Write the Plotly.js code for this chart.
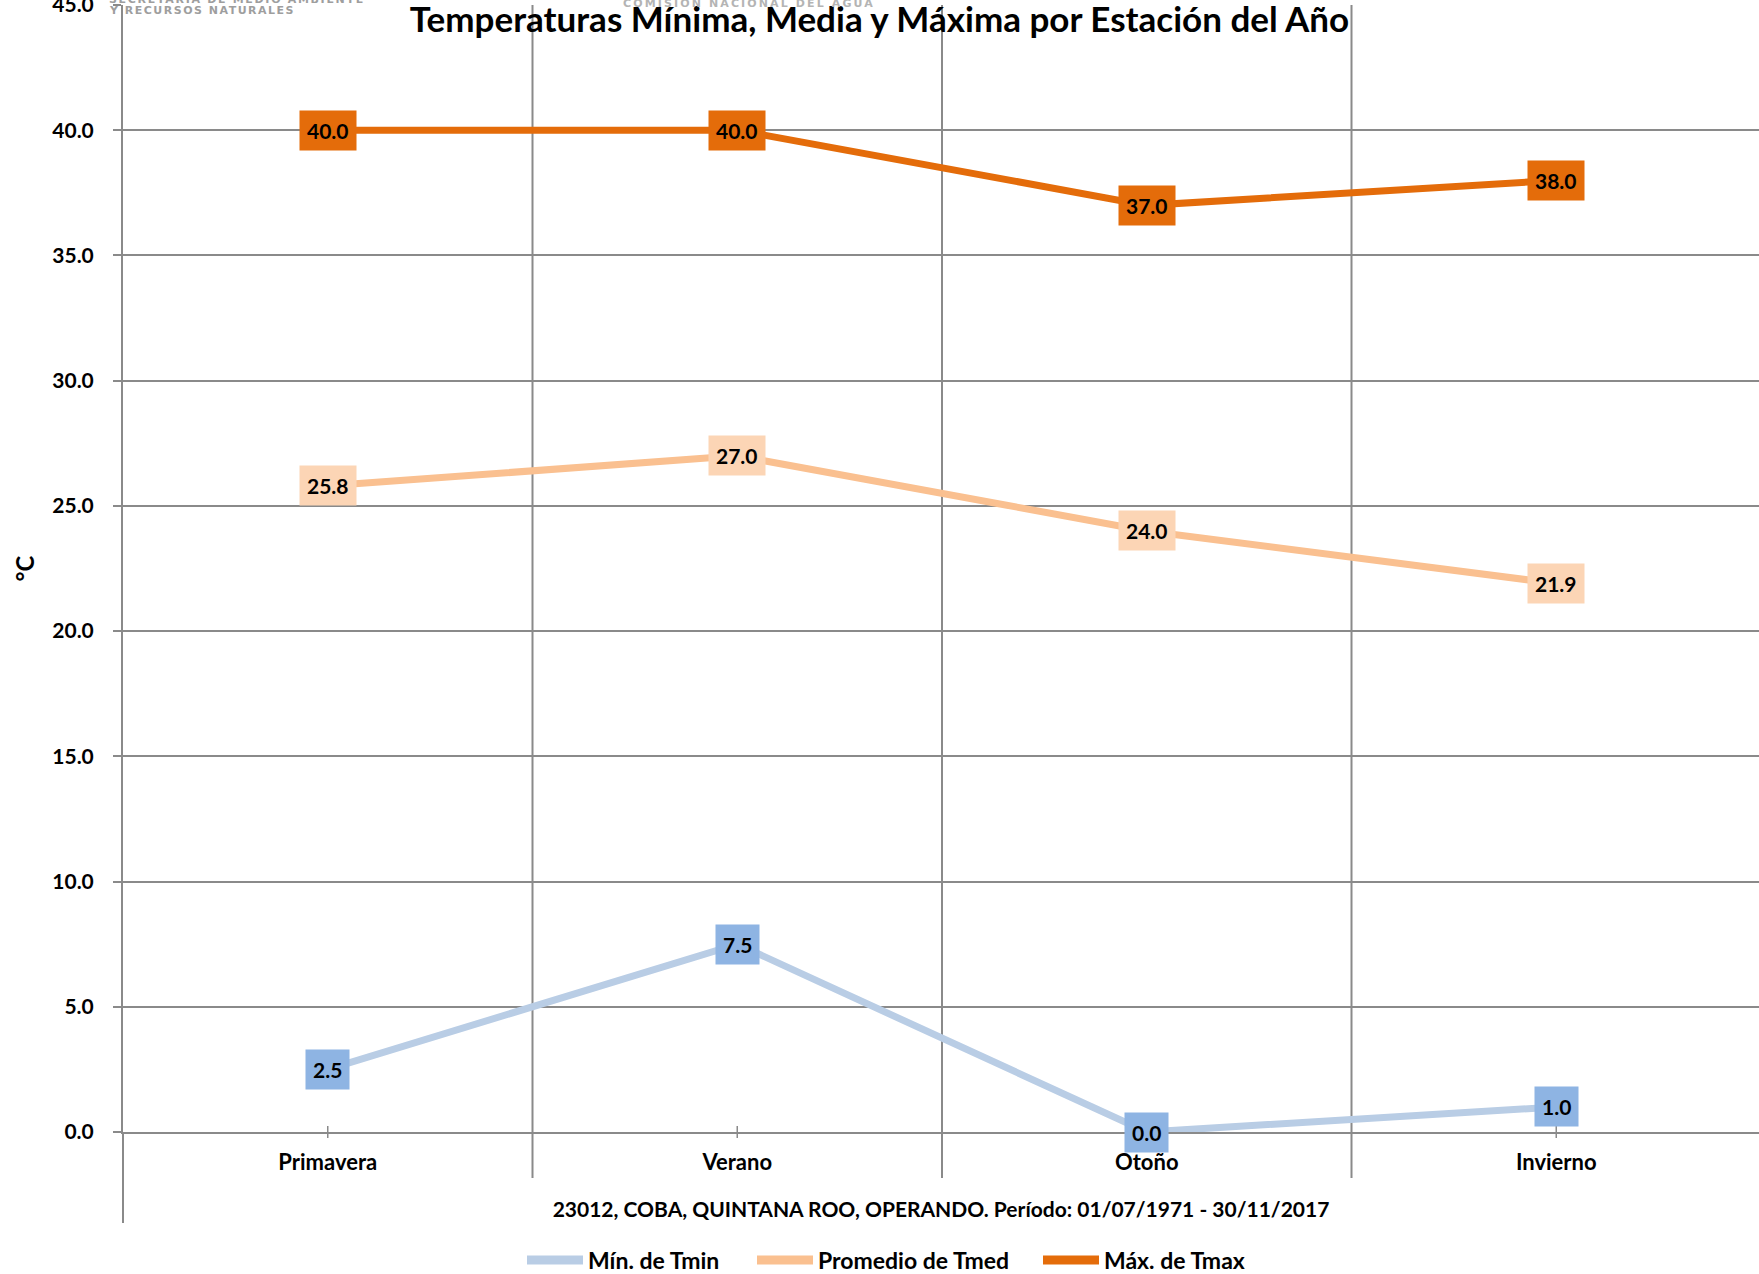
<!DOCTYPE html>
<html>
<head>
<meta charset="utf-8">
<script src="https://cdn.plot.ly/plotly-3.0.1.min.js"></script>
<style>
  html, body { margin: 0; padding: 0; background: #ffffff; overflow: hidden; }
  #chart { width: 1759px; height: 1274px; }
</style>
</head>
<body>
<div id="chart"></div>
<script>
// ---- data ----
const seasons = ["Primavera", "Verano", "Otoño", "Invierno"];
const tminMin = [2.5, 7.5, 0.0, 1.0];
const tmedAvg = [25.8, 27.0, 24.0, 21.9];
const tmaxMax = [40.0, 40.0, 37.0, 38.0];
const seriesNames = ["Mín. de Tmin", "Promedio de Tmed", "Máx. de Tmax"];
const yTicks = [0, 5, 10, 15, 20, 25, 30, 35, 40, 45];
const chartTitle = "Temperaturas Mínima, Media y Máxima por Estación del Año";
const xTitle = "23012, COBA, QUINTANA ROO, OPERANDO. Período: 01/07/1971 - 30/11/2017";
const yTitle = "°C";
const logoTexts = ["SECRETARÍA DE MEDIO AMBIENTE", "Y RECURSOS NATURALES", "COMISIÓN NACIONAL DEL AGUA"];

// ---- styles ----
const FONT = "Lato, 'Open Sans', sans-serif";
const lineColors = ["#B9CDE5", "#FAC090", "#E46C0A"];
const boxColors = ["#8EB4E3", "#FCD5B5", "#E46C0A"];
const gridColor = "#8A8A8A";
const W = 1759, H = 1274;
const mL = 123, mR = 0, mT = 5, mB = 142;
const plotH = H - mT - mB;
const plotW = W - mL - mR;
const px2x = p => (p - mL) / plotW;          // pixel x -> paper x
const px2y = p => (H - mB - p) / plotH;      // pixel y -> paper y

const series = [tminMin, tmedAvg, tmaxMax];

const traces = series.map((vals, i) => ({
  type: "scatter",
  mode: "lines",
  x: seasons,
  y: vals,
  name: seriesNames[i],
  line: { color: lineColors[i], width: 7 },
  showlegend: false
}));

const annotations = [];
series.forEach((vals, i) => {
  vals.forEach((v, j) => {
    annotations.push({
      x: seasons[j], y: v, xref: "x", yref: "y",
      text: v.toFixed(1),
      showarrow: false,
      xanchor: "center", yanchor: "middle",
      bgcolor: boxColors[i],
      borderpad: 7,
      font: { family: FONT, size: 21, color: "#000000", weight: "bold" }
    });
  });
});

// logo texts (partially cut at the top of the picture): [left px, center y px, colour, width px]
const logoPos = [[109, 0, "#9E9E9E", 256], [109, 11, "#9E9E9E", 185], [623, 4, "#B4B4B4", 252]];
logoTexts.forEach((t, k) => {
  annotations.push({
    xref: "paper", yref: "paper",
    x: px2x(logoPos[k][0]), y: px2y(logoPos[k][1]),
    xanchor: "left", yanchor: "middle", showarrow: false,
    text: t,
    font: { family: "DejaVu Sans", size: 11, color: logoPos[k][2], weight: "bold" }
  });
});

const shapes = [];
// vertical gridlines on category boundaries, extending below the axis
for (let k = 0; k < seasons.length; k++) {
  shapes.push({
    type: "line", xref: "x", yref: "paper",
    x0: k + 0.5, x1: k + 0.5, y0: px2y(1178), y1: 1,
    line: { color: gridColor, width: 2 }, layer: "below"
  });
  // small tick crossing the category axis at each category
  shapes.push({
    type: "line", xref: "x", yref: "paper",
    x0: k, x1: k, y0: px2y(1138), y1: px2y(1126),
    line: { color: gridColor, width: 1.5 }, layer: "below"
  });
}
// y axis line extension below the category axis
shapes.push({
  type: "line", xref: "paper", yref: "paper",
  x0: 0, x1: 0, y0: px2y(1223), y1: 0,
  line: { color: gridColor, width: 2 }, layer: "below"
});

// legend (drawn below the axis title)
const legendSample = [[527, 583], [757, 813], [1043, 1099]];
const legendY = 1260;
seriesNames.forEach((nm, i) => {
  shapes.push({
    type: "line", xref: "paper", yref: "paper",
    x0: px2x(legendSample[i][0]), x1: px2x(legendSample[i][1]),
    y0: px2y(legendY), y1: px2y(legendY),
    line: { color: lineColors[i], width: 9 }
  });
  annotations.push({
    xref: "paper", yref: "paper",
    x: px2x(legendSample[i][1] + 3), y: px2y(legendY),
    xanchor: "left", yanchor: "middle", showarrow: false,
    text: nm,
    font: { family: FONT, size: 23, color: "#000000", weight: "bold" }
  });
});

const layout = {
  width: W, height: H,
  margin: { l: mL, r: mR, t: mT, b: mB, pad: 0 },
  paper_bgcolor: "#ffffff",
  plot_bgcolor: "#ffffff",
  font: { family: FONT, size: 21, color: "#000000", weight: "bold" },
  title: {
    text: chartTitle,
    xref: "container", x: 0.5, xanchor: "center",
    yref: "container", y: 1 - 20 / H, yanchor: "middle",
    font: { family: FONT, size: 35, color: "#000000", weight: "bold" }
  },
  xaxis: {
    type: "category",
    categoryorder: "array", categoryarray: seasons,
    range: [-0.5, seasons.length - 0.5 - 2 / 409.5],
    showgrid: false, zeroline: false,
    showline: true, linecolor: gridColor, linewidth: 2,
    ticks: "", ticklabelstandoff: 10,
    tickfont: { family: FONT, size: 22, color: "#000000", weight: "bold" },
    title: { text: xTitle, standoff: 28, font: { family: FONT, size: 21, color: "#000000", weight: "bold" } },
    fixedrange: true
  },
  yaxis: {
    range: [0, 45],
    tickmode: "array", tickvals: yTicks,
    ticktext: yTicks.map(v => v.toFixed(1)),
    ticklabeloverflow: "allow",
    showgrid: true, gridcolor: gridColor, gridwidth: 2,
    zeroline: false,
    showline: true, linecolor: gridColor, linewidth: 2,
    ticks: "outside", ticklen: 8, tickwidth: 2, tickcolor: gridColor,
    ticklabelstandoff: 15,
    tickfont: { family: FONT, size: 21, color: "#000000", weight: "bold" },
    title: { text: yTitle, standoff: 11, font: { family: FONT, size: 24, color: "#000000", weight: "bold" } },
    fixedrange: true
  },
  showlegend: false,
  annotations: annotations,
  shapes: shapes
};

Plotly.newPlot("chart", traces, layout, { displayModeBar: false, staticPlot: true }).then(gd => {
  // the logo lettering is widely spaced: stretch each to its width, keep its left edge
  const nData = series.reduce((s, v) => s + v.length, 0);
  const anns = gd.querySelectorAll(".annotation");
  const rootLeft = gd.getBoundingClientRect().left;
  for (let k = 0; k < logoTexts.length; k++) {
    const el = anns[nData + k];
    if (!el) continue;
    const t = el.querySelector("text");
    if (!t) continue;
    const natural = t.getComputedTextLength();
    const sp = (logoPos[k][3] - natural) / logoTexts[k].length;
    t.style.letterSpacing = sp.toFixed(2) + "px";
    const r = t.getBoundingClientRect();
    const delta = logoPos[k][0] - (r.left - rootLeft);
    const x0 = parseFloat(t.getAttribute("x") || "0");
    t.setAttribute("x", x0 + delta);
    t.querySelectorAll("tspan[x]").forEach(s => s.setAttribute("x", parseFloat(s.getAttribute("x")) + delta));
  }
});
</script>
</body>
</html>
